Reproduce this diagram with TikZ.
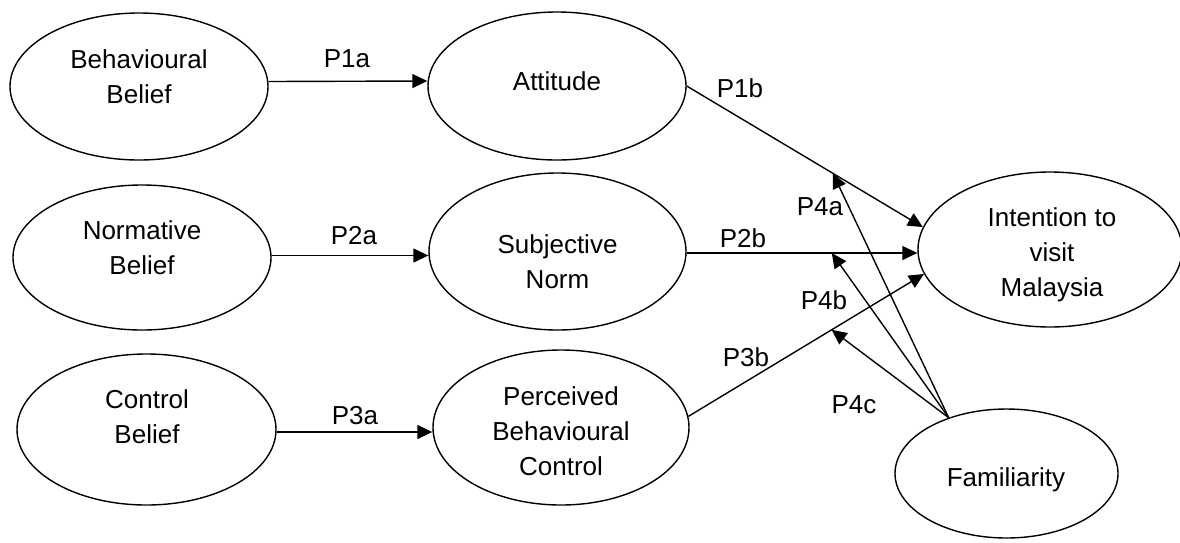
\documentclass[tikz,border=0pt]{standalone}
\usepackage{fontspec}
\setmainfont{Liberation Sans}
\usetikzlibrary{arrows.meta,shapes.geometric}
\begin{document}
\begin{tikzpicture}[x=1pt,y=-1pt,
  oval/.style={draw,ellipse,line width=1.4pt,inner sep=0pt},
  txt/.style={align=center,font=\fontsize{26}{35}\selectfont,inner sep=0pt},
  lbl/.style={font=\fontsize{26}{35}\selectfont,inner sep=0pt},
  arr/.style={line width=1.4pt,-{Triangle[length=15pt,width=14pt]}}]
\useasboundingbox (0,0) rectangle (1180,542);
% ellipses
\node[oval,minimum width=258pt,minimum height=147pt] (bb) at (139,86.5) {};
\node[oval,minimum width=258pt,minimum height=145pt] (nb) at (142,257.5) {};
\node[oval,minimum width=259pt,minimum height=151pt] (cb) at (146.5,429.5) {};
\node[oval,minimum width=258pt,minimum height=148pt] (att) at (557,86) {};
\node[oval,minimum width=257pt,minimum height=157pt] (sn) at (557.5,251.5) {};
\node[oval,minimum width=256pt,minimum height=155pt] (pbc) at (561,427.5) {};
\node[oval,minimum width=264pt,minimum height=155pt] (int) at (1050,249.5) {};
\node[oval,minimum width=223pt,minimum height=129pt] (fam) at (1006.5,473.5) {};
% texts
\node[txt] (bbt) at (139,76.5) {Behavioural\\Belief};
\node[txt] (nbt) at (142,247.5) {Normative\\Belief};
\node[txt] (cbt) at (147,416.5) {Control\\Belief};
\node[txt] (attt) at (557,81) {Attitude};
\node[txt] (snt) at (557.5,261.5) {Subjective\\Norm};
\node[txt] (pbct) at (561,431) {Perceived\\Behavioural\\Control};
\node[txt] (intt) at (1052,254.5) {Intention to\\visit\\Malaysia};
\node[txt] (famt) at (1006,480) {Familiarity};
% connectors
\draw[arr] ([yshift=5pt]bb.east) -- ([yshift=5pt]att.west);
\draw[arr] ([yshift=2pt]nb.east) -- ([yshift=2pt]nb.east -| sn.west);
\draw[arr] ([yshift=-2.5pt]cb.east) -- ([yshift=-2.5pt]cb.east -| pbc.west);
\draw[arr] (att.east) -- coordinate[pos=0.619] (m1) (int.170);
\draw[arr] ([yshift=-1.5pt]sn.east) -- coordinate[pos=0.629] (m2) ([yshift=-1.5pt]sn.east -| int.west);
\draw[arr] (pbc.5) -- coordinate[pos=0.608] (m3) (int.191);
\draw[arr] (fam.136) -- (m1);
\draw[arr] (fam.136) -- (m2);
\draw[arr] (fam.136) -- (m3);
% labels
\node[lbl] (l1a) at (347,59) {P1a};
\node[lbl] (l2a) at (354,236) {P2a};
\node[lbl] (l3a) at (355,416) {P3a};
\node[lbl] (l1b) at (740,88) {P1b};
\node[lbl] (l2b) at (743,238) {P2b};
\node[lbl] (l3b) at (746,357) {P3b};
\node[lbl] (l4a) at (820,207) {P4a};
\node[lbl] (l4b) at (824,300) {P4b};
\node[lbl] (l4c) at (854,405) {P4c};
\end{tikzpicture}
\end{document}
